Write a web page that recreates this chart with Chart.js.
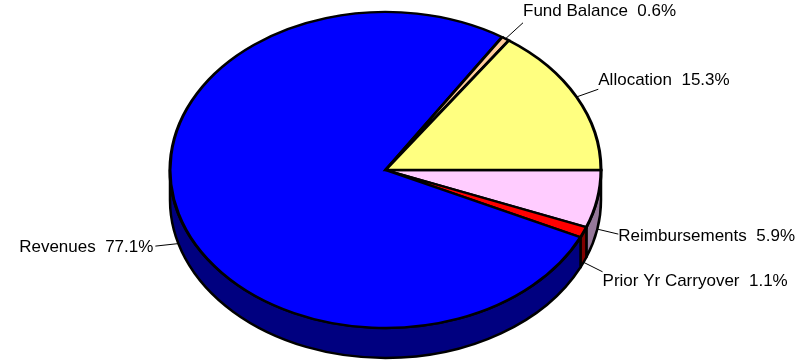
<!DOCTYPE html>
<html>
<head>
<meta charset="utf-8">
<script src="https://cdn.jsdelivr.net/npm/chart.js@4/dist/chart.umd.min.js"></script>
<style>
  html, body { margin: 0; padding: 0; background: #ffffff; }
  #wrap { width: 812px; height: 361px; }
</style>
</head>
<body>
<div id="wrap"><canvas id="pie" width="812" height="361"></canvas></div>
<script>
// Slices in drawing order, clockwise from 3 o'clock
const categories = ['Reimbursements', 'Prior Yr Carryover', 'Revenues', 'Fund Balance', 'Allocation'];
const shares = [5.9, 1.1, 77.1, 0.6, 15.3];
const valueLabels = ['5.9%', '1.1%', '77.1%', '0.6%', '15.3%'];

// Top face and side wall colours
const topColors = ['#FFCCFF', '#FF0000', '#0000FF', '#FFCC99', '#FFFF80'];
const sideColors = ['#96789A', '#800000', '#000080', '#806640', '#808040'];

// Leader line end, relative to the slice's edge point: [dx, dy, text vertical shift]
const leaderLayout = [
  [21, 5, 2],
  [19, 9.5, 10],
  [-23, 2.5, 1],
  [17.5, -16, -11],
  [21.7, -7.7, -9]
];

const TILT = 158 / 215.5;   // vertical squash of the disc
const DEPTH = 30;           // thickness of the disc in pixels
const LABEL_FONT = '17px "Liberation Sans", Arial, sans-serif';

function normAngle(a) {
  const t = Math.PI * 2;
  return ((a % t) + t) % t;
}

const pie3d = {
  id: 'pie3d',
  beforeDatasetsDraw(chart) {
    const ctx = chart.ctx;
    const arcs = chart.getDatasetMeta(0).data;
    const cx = arcs[0].x, cy = arcs[0].y, r = arcs[0].outerRadius, ry = r * TILT;

    // side wall: only the front half of the disc is visible
    ctx.save();
    ctx.lineWidth = 2.5;
    ctx.lineJoin = 'round';
    ctx.strokeStyle = '#000000';
    arcs.forEach((arc, i) => {
      const s = normAngle(arc.startAngle);
      const e = s + (arc.endAngle - arc.startAngle);
      const ranges = [[s, e], [s - Math.PI * 2, e - Math.PI * 2]];
      ranges.forEach(([a, b]) => {
        const lo = Math.max(a, 0), hi = Math.min(b, Math.PI);
        if (hi <= lo) return;
        ctx.beginPath();
        ctx.ellipse(cx, cy, r, ry, 0, lo, hi, false);
        ctx.lineTo(cx + r * Math.cos(hi), cy + ry * Math.sin(hi) + DEPTH);
        ctx.ellipse(cx, cy + DEPTH, r, ry, 0, hi, lo, true);
        ctx.closePath();
        ctx.fillStyle = sideColors[i];
        ctx.fill();
        ctx.stroke();
      });
    });
    ctx.restore();

    // top face: squash the library's circle into an ellipse
    ctx.save();
    ctx.translate(cx, cy);
    ctx.scale(1, TILT);
    ctx.translate(-cx, -cy);
  },
  afterDatasetsDraw(chart) {
    const ctx = chart.ctx;
    ctx.restore();

    const arcs = chart.getDatasetMeta(0).data;
    const cx = arcs[0].x, cy = arcs[0].y, r = arcs[0].outerRadius, ry = r * TILT;

    ctx.save();
    ctx.font = LABEL_FONT;
    ctx.fillStyle = '#000000';
    ctx.strokeStyle = '#000000';
    ctx.lineWidth = 1;
    ctx.textBaseline = 'middle';
    arcs.forEach((arc, i) => {
      const mid = (arc.startAngle + arc.endAngle) / 2;
      const sn = Math.sin(mid), cs = Math.cos(mid);
      const ax = cx + r * cs;
      const ay = cy + ry * sn + (sn > 0 ? DEPTH : 0);
      const [dx, dy, ty] = leaderLayout[i];
      const ex = ax + dx, ey = ay + dy;
      ctx.beginPath();
      ctx.moveTo(ax, ay);
      ctx.lineTo(ex, ey);
      ctx.stroke();
      const text = categories[i] + '  ' + valueLabels[i];
      if (dx >= 0) {
        ctx.textAlign = 'left';
        ctx.fillText(text, ex, ey + ty);
      } else {
        ctx.textAlign = 'right';
        ctx.fillText(text, ex - 2, ey + ty);
      }
    });
    ctx.restore();
  }
};

new Chart(document.getElementById('pie'), {
  type: 'pie',
  data: {
    labels: categories,
    datasets: [{
      data: shares,
      backgroundColor: topColors,
      borderColor: '#000000',
      borderWidth: 3.1,
      borderJoinStyle: 'miter',
      radius: 215.5,
      clip: false
    }]
  },
  options: {
    responsive: false,
    animation: false,
    devicePixelRatio: 1,
    rotation: 90,
    layout: { padding: { left: 0, right: 41, top: 0, bottom: 21 } },
    plugins: {
      legend: { display: false },
      tooltip: { enabled: false }
    },
    events: []
  },
  plugins: [pie3d]
});
</script>
</body>
</html>
